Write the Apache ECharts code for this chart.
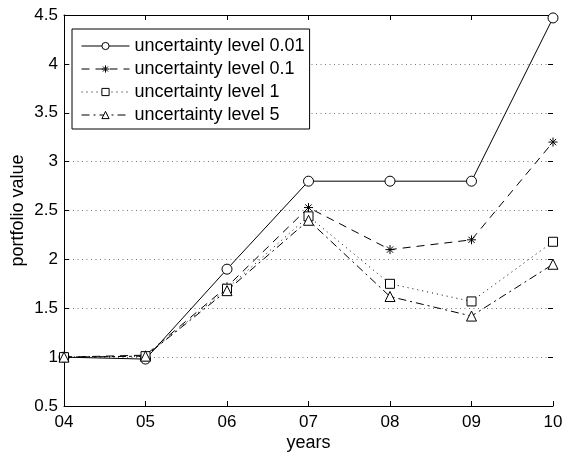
<!DOCTYPE html>
<html>
<head>
<meta charset="utf-8">
<script src="https://cdn.jsdelivr.net/npm/echarts@6/dist/echarts.min.js"></script>
<style>
  html, body { margin: 0; padding: 0; background: #fff; }
  #chart { width: 572px; height: 455px; }
</style>
</head>
<body>
<div id="chart"></div>
<script>
// Years on the horizontal axis
const years = ['04', '05', '06', '07', '08', '09', '10'];

// Portfolio value per uncertainty level
const level001 = [1.00, 0.98, 1.90, 2.80, 2.80, 2.80, 4.47];
const level01  = [1.00, 1.02, 1.72, 2.53, 2.10, 2.20, 3.20];
const level1   = [1.00, 1.01, 1.70, 2.44, 1.75, 1.57, 2.18];
const level5   = [1.00, 1.01, 1.68, 2.40, 1.62, 1.42, 1.95];

const seriesNames = ['uncertainty level 0.01', 'uncertainty level 0.1', 'uncertainty level 1', 'uncertainty level 5'];

const FONT = 'Liberation Sans, Arial, Helvetica, sans-serif';
const asterisk = 'path://M5 0L5 10M0 5L10 5M1.5 1.5L8.5 8.5M8.5 1.5L1.5 8.5';

function lineSeries(name, data, symbol, size, dash) {
  return {
    name: name,
    type: 'line',
    data: data,
    symbol: symbol,
    symbolSize: size,
    showAllSymbol: true,
    lineStyle: { color: '#000', width: 1, type: dash },
    itemStyle: { color: '#fff', borderColor: '#000', borderWidth: 1 },
    emphasis: { disabled: true },
    animation: false,
    z: 3
  };
}

const chart = echarts.init(document.getElementById('chart'), null, { renderer: 'canvas' });

const hiddenAxis = {
  axisLine: { lineStyle: { color: '#000', width: 1 } },
  axisTick: { show: true, inside: true, length: 5, lineStyle: { color: '#000' } },
  axisLabel: { show: false },
  splitLine: { show: false }
};

chart.setOption({
  backgroundColor: '#fff',
  animation: false,
  textStyle: { fontFamily: FONT },
  grid: { left: 64, right: 19, top: 15, bottom: 49, containLabel: false, outerBoundsMode: 'none' },
  legend: {
    orient: 'vertical',
    left: 72,
    top: 29,
    padding: [8, 5, 5, 9],
    itemGap: 5,
    itemWidth: 48,
    itemHeight: 9,
    backgroundColor: '#fff',
    borderColor: '#000',
    borderWidth: 1,
    borderRadius: 0,
    lineStyle: { width: 1 },
    itemStyle: { borderWidth: 1 },
    textStyle: { fontFamily: FONT, fontSize: 18, color: '#000', lineHeight: 18 },
    data: seriesNames
  },
  xAxis: [
    {
      type: 'category',
      data: years,
      boundaryGap: false,
      name: 'years',
      nameLocation: 'middle',
      nameGap: 28,
      nameMoveOverlap: false,
      nameTextStyle: { fontFamily: FONT, fontSize: 18, color: '#000' },
      axisLine: { lineStyle: { color: '#000', width: 1 } },
      axisTick: { show: true, inside: true, length: 5, lineStyle: { color: '#000' } },
      axisLabel: { fontFamily: FONT, fontSize: 17, color: '#000', margin: 8 },
      splitLine: { show: false }
    },
    Object.assign({ type: 'category', data: years, boundaryGap: false, position: 'top' }, hiddenAxis)
  ],
  yAxis: [
    {
      type: 'value',
      min: 0.5,
      max: 4.5,
      interval: 0.5,
      name: 'portfolio value',
      nameLocation: 'middle',
      nameGap: 37,
      nameMoveOverlap: false,
      nameTextStyle: { fontFamily: FONT, fontSize: 18, color: '#000' },
      axisLine: { show: true, lineStyle: { color: '#000', width: 1 } },
      axisTick: { show: true, inside: true, length: 5, lineStyle: { color: '#000' } },
      axisLabel: { fontFamily: FONT, fontSize: 17, color: '#000', margin: 6 },
      splitLine: { show: true, lineStyle: { color: '#777', width: 1, type: [1, 3.5] } }
    },
    Object.assign({ type: 'value', min: 0.5, max: 4.5, interval: 0.5, position: 'right' }, hiddenAxis)
  ],
  series: [
    lineSeries(seriesNames[0], level001, 'circle', 10, 'solid'),
    lineSeries(seriesNames[1], level01, asterisk, 9, [8, 6]),
    lineSeries(seriesNames[2], level1, 'rect', 9, [1, 4]),
    lineSeries(seriesNames[3], level5, 'triangle', 10, [8, 4, 2, 4])
  ]
});
</script>
</body>
</html>
